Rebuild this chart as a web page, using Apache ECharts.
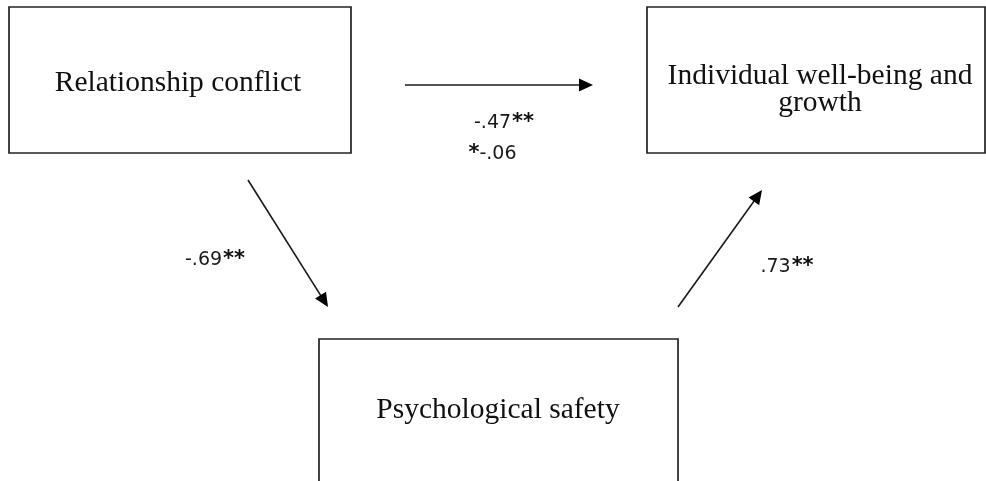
<!DOCTYPE html>
<html>
<head>
<meta charset="utf-8">
<script src="https://cdn.jsdelivr.net/npm/echarts@6/dist/echarts.min.js"></script>
<style>html,body{margin:0;padding:0;background:#fff}#c{width:986px;height:481px}</style>
</head>
<body>
<div id="c"></div>
<script>
// Diagram nodes (diagram units = pixels of a 986x481 canvas)
const nodeNames = ['Relationship conflict', 'Individual well-being and\ngrowth', 'Psychological safety'];
const nodeX0 = [9, 647, 319];
const nodeX1 = [351, 985, 678];
const nodeY0 = [7, 7, 339];
const nodeY1 = [153, 153, 520];
const nodeTextX = [178, 820, 498];
const nodeTextY = [83, 90, 410];

// Paths (arrows)
const pathFrom = [[405, 85], [248, 180], [678, 307]];
const pathTo = [[593, 85], [328, 307], [762, 190]];

// Path coefficients: value part and significance stars
const coefPrefix = ['', '*', '', ''];
const coefValues = ['-.47', '-.06', '-.69', '.73'];
const coefStars = ['**', '', '**', '**'];
const coefX = [504, 492, 215, 787];
const coefY = [123, 154, 260, 267];

const chart = echarts.init(document.getElementById('c'), null, {renderer: 'canvas'});

const boxData = nodeNames.map((n, i) => [nodeX0[i], nodeY0[i], nodeX1[i], nodeY1[i], nodeTextX[i], nodeTextY[i], n]);
const arrowData = pathFrom.map((f, i) => [f[0], f[1], pathTo[i][0], pathTo[i][1]]);
const coefData = coefValues.map((t, i) => [coefX[i], coefY[i], coefPrefix[i], t, coefStars[i]]);

function richText(d) {
  let s = '';
  if (d[2]) s += '{s|' + d[2] + '}';
  s += '{n|' + d[3] + '}';
  if (d[4]) s += '{s|' + d[4] + '}';
  return s;
}

chart.setOption({
  animation: false,
  backgroundColor: '#ffffff',
  grid: {left: 0, right: 0, top: 0, bottom: 0},
  xAxis: {type: 'value', min: 0, max: 986, show: false},
  yAxis: {type: 'value', min: 0, max: 481, inverse: true, show: false},
  series: [
    {
      type: 'custom',
      clip: true,
      data: boxData,
      renderItem: function (params, api) {
        const p0 = api.coord([api.value(0), api.value(1)]);
        const p1 = api.coord([api.value(2), api.value(3)]);
        const pt = api.coord([api.value(4), api.value(5)]);
        return {
          type: 'group',
          children: [
            {type: 'rect', shape: {x: p0[0], y: p0[1], width: p1[0] - p0[0], height: p1[1] - p0[1]},
             style: {fill: '#ffffff', stroke: '#222', lineWidth: 1.7}},
            {type: 'text', x: pt[0], y: pt[1],
             style: {text: boxData[params.dataIndex][6], fill: '#111', font: '29.5px "Liberation Serif", "Times New Roman", serif',
                     align: 'center', verticalAlign: 'middle', lineHeight: 27}}
          ]
        };
      }
    },
    {
      type: 'custom',
      data: arrowData,
      renderItem: function (params, api) {
        const a = api.coord([api.value(0), api.value(1)]);
        const b = api.coord([api.value(2), api.value(3)]);
        const dx = b[0] - a[0], dy = b[1] - a[1];
        const len = Math.sqrt(dx * dx + dy * dy);
        const ux = dx / len, uy = dy / len;
        const hl = 14, hw = 6.5;
        const bx = b[0] - ux * hl, by = b[1] - uy * hl;
        return {
          type: 'group',
          children: [
            {type: 'line', shape: {x1: a[0], y1: a[1], x2: bx + ux * 2, y2: by + uy * 2},
             style: {stroke: '#1a1a1a', lineWidth: 1.6}},
            {type: 'polygon', shape: {points: [[b[0], b[1]], [bx - uy * hw, by + ux * hw], [bx + uy * hw, by - ux * hw]]},
             style: {fill: '#000'}}
          ]
        };
      }
    },
    {
      type: 'custom',
      data: coefData,
      renderItem: function (params, api) {
        const p = api.coord([api.value(0), api.value(1)]);
        return {type: 'text', x: p[0], y: p[1],
          style: {text: richText(coefData[params.dataIndex]), align: 'center', verticalAlign: 'middle',
                  rich: {
                    n: {fontFamily: '"DejaVu Sans", sans-serif', fontSize: 19, fill: '#1a1a1a', lineHeight: 22},
                    s: {fontFamily: '"DejaVu Sans", sans-serif', fontWeight: 'bold', fontSize: 21, fill: '#111', lineHeight: 22, padding: [0, 0, 0, 1]}
                  }}};
      }
    }
  ]
});
</script>
</body>
</html>
